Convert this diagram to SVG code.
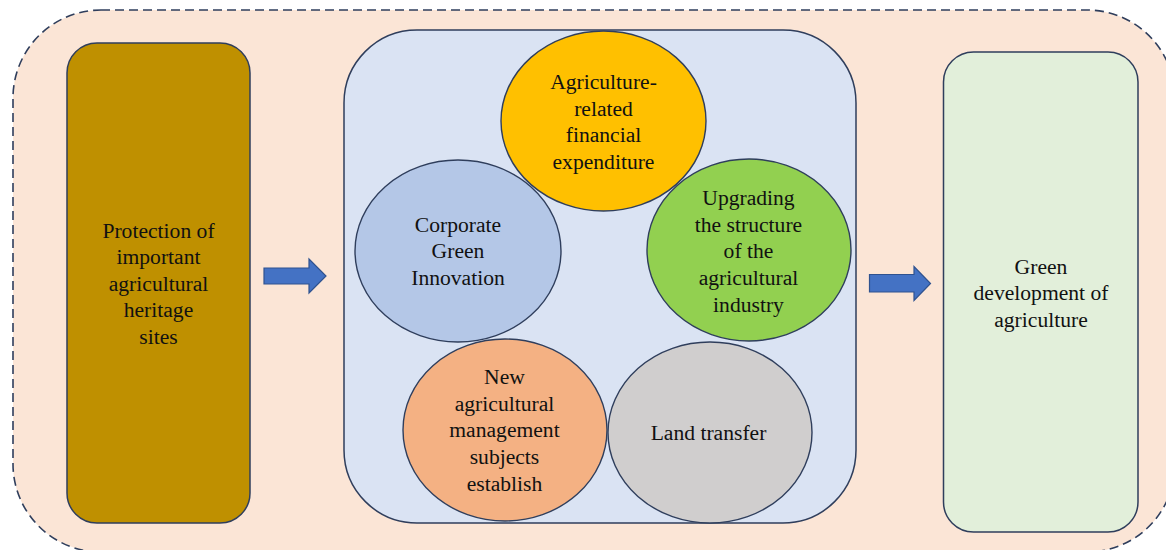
<svg xmlns="http://www.w3.org/2000/svg" width="1166" height="550" viewBox="0 0 1166 550">
  <defs>
    <style>
      .frame { fill: #FBE5D6; stroke: #2F3E5C; stroke-width: 1.6; stroke-dasharray: 9 5; }
      .box { stroke: #2F3E5C; stroke-width: 1.5; }
      .oval { stroke: #2F3E5C; stroke-width: 1.4; }
      .arrow { fill: #4472C4; stroke: #2F528F; stroke-width: 1.2; stroke-linejoin: miter; }
      text { font-family: "Liberation Serif", "Times New Roman", serif; font-size: 21.6px; fill: #111111; text-anchor: middle; }
    </style>
  </defs>

  <!-- background frame -->
  <rect class="frame" x="13" y="10" width="1162" height="542" rx="88" ry="88"/>

  <!-- left: heritage protection -->
  <g id="node-heritage">
    <rect class="box" x="67" y="43" width="183" height="480" rx="30" ry="30" fill="#BF9000"/>
    <text x="158.5" y="237.5">Protection of</text>
    <text x="158.5" y="264">important</text>
    <text x="158.5" y="290.5">agricultural</text>
    <text x="158.5" y="317">heritage</text>
    <text x="158.5" y="343.5">sites</text>
  </g>

  <!-- centre: mechanisms -->
  <g id="node-mechanisms">
    <rect class="box" x="344" y="30" width="512" height="493" rx="73" ry="73" fill="#DAE3F3"/>
  </g>

  <g id="node-finance">
    <ellipse class="oval" cx="603.5" cy="121" rx="102.5" ry="90" fill="#FFC000"/>
    <text x="603.5" y="89">Agriculture-</text>
    <text x="603.5" y="115.7">related</text>
    <text x="603.5" y="142.4">financial</text>
    <text x="603.5" y="169">expenditure</text>
  </g>

  <g id="node-innovation">
    <ellipse class="oval" cx="458" cy="251" rx="103" ry="91" fill="#B4C7E7"/>
    <text x="458" y="231.7">Corporate</text>
    <text x="458" y="258.4">Green</text>
    <text x="458" y="285">Innovation</text>
  </g>

  <g id="node-structure">
    <ellipse class="oval" cx="749" cy="250" rx="102" ry="91" fill="#92D050"/>
    <text x="748.5" y="205">Upgrading</text>
    <text x="748.5" y="231.7">the structure</text>
    <text x="748.5" y="258.4">of the</text>
    <text x="748.5" y="285">agricultural</text>
    <text x="748.5" y="311.7">industry</text>
  </g>

  <g id="node-subjects">
    <ellipse class="oval" cx="505" cy="430" rx="102" ry="91" fill="#F4B183"/>
    <text x="504.5" y="384">New</text>
    <text x="504.5" y="410.7">agricultural</text>
    <text x="504.5" y="437.4">management</text>
    <text x="504.5" y="464">subjects</text>
    <text x="504.5" y="490.7">establish</text>
  </g>

  <g id="node-land">
    <ellipse class="oval" cx="710" cy="432.5" rx="102" ry="90.5" fill="#D0CECE"/>
    <text x="708.5" y="439.5">Land transfer</text>
  </g>

  <!-- right: outcome -->
  <g id="node-green">
    <rect class="box" x="943.5" y="52" width="194.5" height="480" rx="30" ry="30" fill="#E2EFDA"/>
    <text x="1041" y="273.5">Green</text>
    <text x="1041" y="300">development of</text>
    <text x="1041" y="326.5">agriculture</text>
  </g>

  <!-- block arrows -->
  <g id="connectors">
    <polygon class="arrow" points="264,268 309,268 309,259 326,276 309,293 309,284 264,284"/>
    <polygon class="arrow" points="869.5,274.5 914,274.5 914,266.5 930.5,283.5 914,300.5 914,292 869.5,292"/>
  </g>
</svg>
